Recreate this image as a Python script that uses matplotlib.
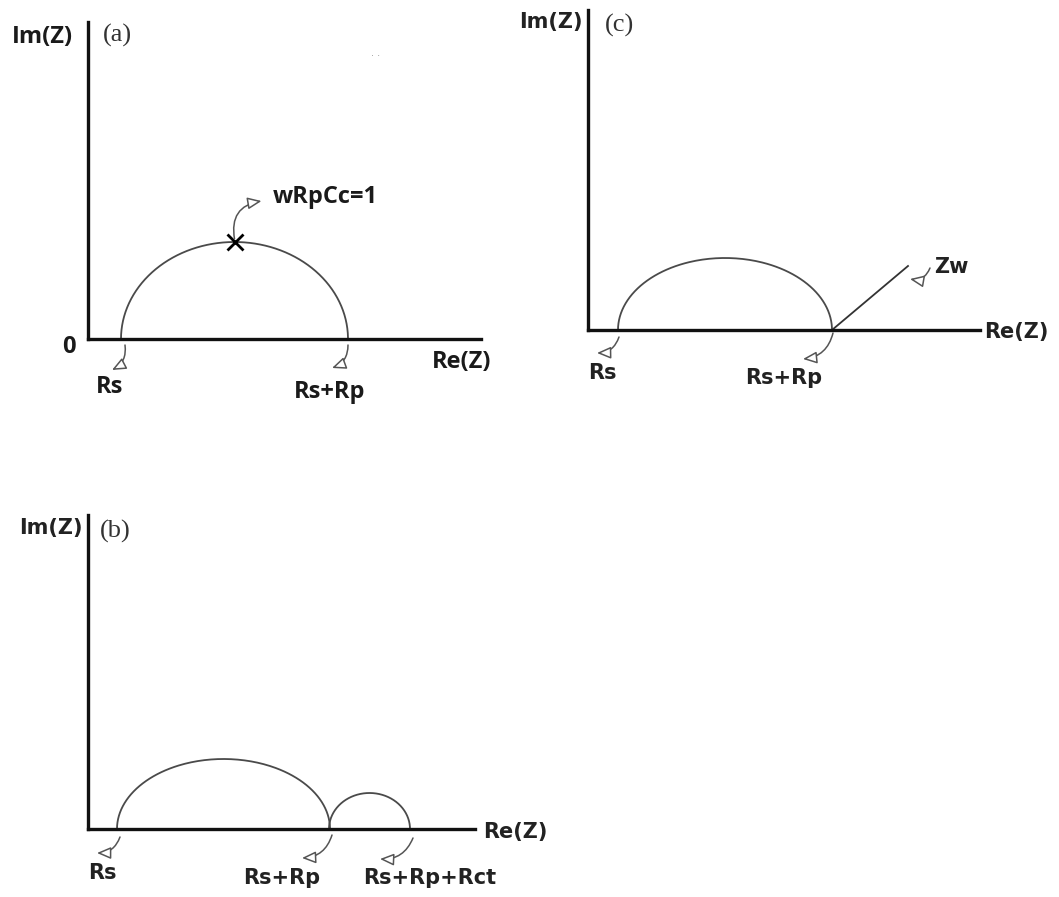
import matplotlib
matplotlib.use('Agg')
import matplotlib.pyplot as plt
import numpy as np

# Nyquist-Skizzen: Halbkreise (Start auf Re-Achse, Ende, Scheitelhöhe)
a_start = [3.3]
a_end = [26.0]
a_peak = [9.7]

b_start = [2.9, 24.1]
b_end = [24.2, 32.2]
b_peak = [7.0, 3.6]

c_start = [3.0]
c_end = [24.4]
c_peak = [7.2]
# Warburg-Gerade in (c): Re- und Im-Werte
zw_re = [24.4, 32.0]
zw_im = [0.0, 6.4]

W, H = 1059, 897
fig = plt.figure(figsize=(W / 100, H / 100), dpi=100)
plt.rcParams['font.family'] = ['DejaVu Sans']

font_a = dict(fontsize=17, fontweight='bold', family=['Open Sans', 'DejaVu Sans'], color='#1a1a1a')
font_bc = dict(fontsize=15, fontweight='bold', family=['DejaVu Sans'], color='#222222')
font_tag = dict(fontsize=19, family=['Liberation Serif'], color='#333333')
arc_col = '#4a4a4a'


def panel(x0, y0, x1, y1):
    # Achsen in Pixeln: (x0, y0) Ursprung, (x1, y1) Enden der Achsenlinien
    ax = fig.add_axes([x0 / W, 1 - y0 / H, (x1 - x0) / W, (y0 - y1) / H])
    ax.set_xlim(0, (x1 - x0) / 10)
    ax.set_ylim(0, (y0 - y1) / 10)
    for s in ['top', 'right']:
        ax.spines[s].set_visible(False)
    for s in ['left', 'bottom']:
        ax.spines[s].set_linewidth(2.4)
        ax.spines[s].set_color('#111111')
    ax.set_xticks([])
    ax.set_yticks([])
    ax.patch.set_alpha(0)
    return ax


def halbkreis(ax, s, e, h):
    t = np.linspace(0, np.pi, 200)
    m, r = (s + e) / 2, (e - s) / 2
    ax.plot(m - r * np.cos(t), h * np.sin(t), color=arc_col, lw=1.3, clip_on=False)


def pfeil(ax, tail, head, rad=-0.35):
    ax.annotate('', xy=head, xytext=tail,
                arrowprops=dict(arrowstyle='-|>,head_length=0.7,head_width=0.3',
                                fc='white', ec='#555555', lw=1.1,
                                shrinkA=0, shrinkB=0, mutation_scale=12,
                                connectionstyle='arc3,rad=%s' % rad),
                annotation_clip=False)


# (a)
ax = panel(88, 339, 481, 22)
for s, e, h in zip(a_start, a_end, a_peak):
    halbkreis(ax, s, e, h)
xm = (a_start[0] + a_end[0]) / 2
ax.plot(xm, a_peak[0], 'x', color='black', ms=12, mew=2, clip_on=False)
ax.text(-4.6, 30.2, 'Im(Z)', ha='center', va='center', **font_a)
ax.text(1.5, 30.4, '(a)', ha='left', va='center', **font_tag)
ax.text(-1.9, -0.8, '0', ha='center', va='center', **font_a)
ax.text(34.4, -2.3, 'Re(Z)', ha='left', va='center', **font_a)
ax.text(2.2, -4.8, 'Rs', ha='center', va='center', **font_a)
ax.text(24.2, -5.3, 'Rs+Rp', ha='center', va='center', **font_a)
ax.text(18.5, 14.2, 'wRpCc=1', ha='left', va='center', **font_a)
ax.text(28.8, 28.6, '. .', ha='center', va='center', fontsize=7, color='#999999')
pfeil(ax, (a_start[0] + 0.4, -0.6), (a_start[0] - 0.9, -3.1))
pfeil(ax, (a_end[0] + 0.0, -0.6), (a_end[0] - 1.6, -2.9))
pfeil(ax, (xm, a_peak[0] + 0.3), (xm + 2.7, a_peak[0] + 4.1), rad=-0.5)

# (b)
ax = panel(88, 829, 475, 515)
for s, e, h in zip(b_start, b_end, b_peak):
    halbkreis(ax, s, e, h)
ax.text(-3.7, 30.1, 'Im(Z)', ha='center', va='center', **font_bc)
ax.text(1.2, 29.8, '(b)', ha='left', va='center', **font_tag)
ax.text(39.5, -0.3, 'Re(Z)', ha='left', va='center', **font_bc)
ax.text(1.4, -4.4, 'Rs', ha='center', va='center', **font_bc)
ax.text(19.4, -4.9, 'Rs+Rp', ha='center', va='center', **font_bc)
ax.text(34.2, -4.9, 'Rs+Rp+Rct', ha='center', va='center', **font_bc)
pfeil(ax, (b_start[0] + 0.3, -0.8), (b_start[0] - 2.0, -2.4))
pfeil(ax, (b_end[0] + 0.2, -0.6), (b_end[0] - 2.8, -2.9))
pfeil(ax, (b_end[1] + 0.3, -0.9), (b_end[1] - 3.0, -3.0))

# (c)
ax = panel(588, 330, 980, 10)
for s, e, h in zip(c_start, c_end, c_peak):
    halbkreis(ax, s, e, h)
ax.plot(zw_re, zw_im, color='#333333', lw=1.3, clip_on=False)
ax.text(-3.7, 30.8, 'Im(Z)', ha='center', va='center', **font_bc)
ax.text(1.7, 30.5, '(c)', ha='left', va='center', **font_tag)
ax.text(39.6, -0.2, 'Re(Z)', ha='left', va='center', **font_bc)
ax.text(1.4, -4.3, 'Rs', ha='center', va='center', **font_bc)
ax.text(19.6, -4.8, 'Rs+Rp', ha='center', va='center', **font_bc)
ax.text(34.6, 6.3, 'Zw', ha='left', va='center', **font_bc)
pfeil(ax, (c_start[0] + 0.1, -0.7), (c_start[0] - 2.1, -2.3))
pfeil(ax, (c_end[0] + 0.1, -0.3), (c_end[0] - 2.9, -2.9))
pfeil(ax, (34.2, 6.2), (32.2, 5.1), rad=-0.4)

fig.savefig('out.png', dpi=100)
